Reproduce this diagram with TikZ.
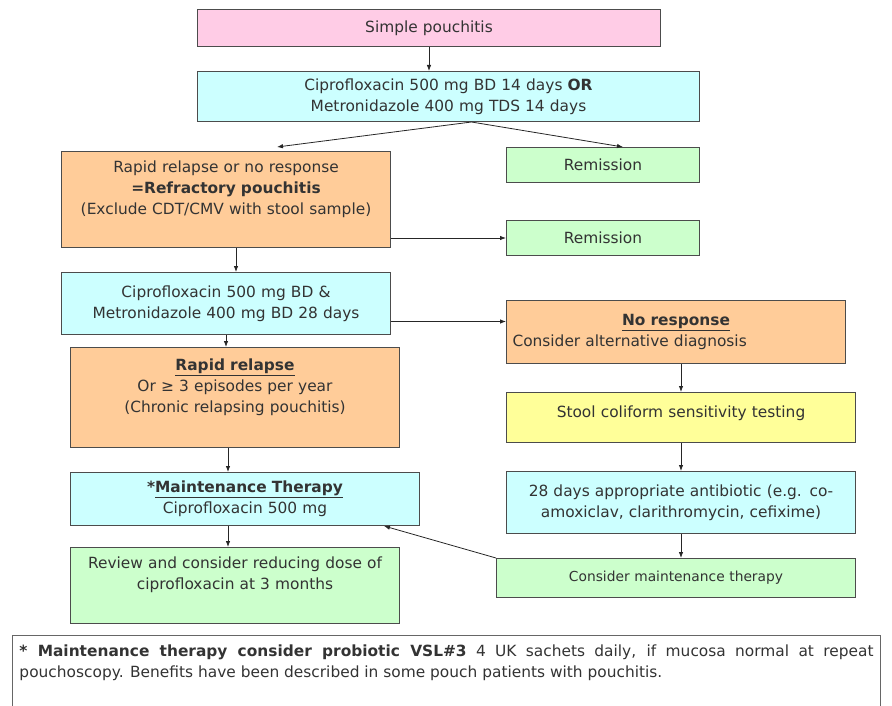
\documentclass[tikz,border=0pt]{standalone}
\usepackage{fontspec}
\setmainfont{DejaVu Sans}
\usetikzlibrary{arrows.meta}

\definecolor{pinkbox}{HTML}{FFCCE6}
\definecolor{cyanbox}{HTML}{CCFFFF}
\definecolor{orangebox}{HTML}{FFCC99}
\definecolor{greenbox}{HTML}{CCFFCC}
\definecolor{yellowbox}{HTML}{FFFF99}

\newcommand{\flowfont}{\fontsize{15.4}{21}\selectfont}
\newcommand{\smallflowfont}{\fontsize{13.8}{19}\selectfont}

\tikzset{
    flowbox/.style={draw=black!70, line width=1pt, inner sep=0pt, anchor=north west,
        align=center, font=\flowfont, text=black!80},
    boxsize/.style 2 args={minimum width=#1, text width=#1-12pt, minimum height=#2},
    flow/.style={->, line width=0.8pt, black!85},
}

\begin{document}
\begin{tikzpicture}[>={Latex[length=6pt,width=4.5pt]}, x=1pt, y=-1pt]
    \useasboundingbox (0,0) rectangle (892,706);

    % left column
    \node[flowbox, fill=pinkbox, boxsize={463pt}{37pt}] (simple) at (197,9) {Simple pouchitis};
    \node[flowbox, fill=cyanbox, boxsize={502pt}{50pt}] (treatA) at (197,71)
        {Ciprofloxacin 500 mg BD 14 days \textbf{OR}\\ Metronidazole 400 mg TDS 14 days};
    \node[flowbox, fill=orangebox, boxsize={329pt}{96pt}] (refract) at (61,151)
        {Rapid relapse or no response\\ \textbf{=Refractory pouchitis}\\ (Exclude CDT/CMV with stool sample)\par\vspace{21pt}};
    \node[flowbox, fill=cyanbox, boxsize={329pt}{62pt}] (treatB) at (61,272)
        {Ciprofloxacin 500 mg BD \&\\ Metronidazole 400 mg BD 28 days};
    \node[flowbox, fill=orangebox, boxsize={329pt}{100pt}] (relapse) at (70,347)
        {\textbf{\underline{Rapid relapse}}\\ Or ≥ 3 episodes per year\\ (Chronic relapsing pouchitis)\par\vspace{21pt}};
    \node[flowbox, fill=cyanbox, boxsize={349pt}{53pt}] (maint) at (70,472)
        {\textbf{*\underline{Maintenance Therapy}}\\ Ciprofloxacin 500 mg};
    \node[flowbox, fill=greenbox, boxsize={329pt}{76pt}] (review) at (70,547)
        {Review and consider reducing dose of\\ ciprofloxacin at 3 months\par\vspace{21pt}};

    % right column
    \node[flowbox, fill=greenbox, boxsize={193pt}{35pt}] (remitA) at (506,147) {Remission};
    \node[flowbox, fill=greenbox, boxsize={193pt}{35pt}] (remitB) at (506,220) {Remission};
    \node[flowbox, fill=orangebox, boxsize={339pt}{63pt}, align=left] (noresp) at (506,300)
        {{\centering\textbf{\underline{No response}}\par}Consider alternative diagnosis};
    \node[flowbox, fill=yellowbox, boxsize={349pt}{50pt}] (stool) at (506,392)
        {Stool coliform sensitivity testing\par\vspace{8pt}};
    \node[flowbox, fill=cyanbox, boxsize={349pt}{62pt}] (abx) at (506,471)
        {28 days appropriate antibiotic (e.g. co-\\ amoxiclav, clarithromycin, cefixime)};
    \node[flowbox, fill=greenbox, boxsize={359pt}{39pt}, font=\smallflowfont] (askmaint) at (496,558)
        {Consider maintenance therapy};

    % footnote
    \node[draw=black!60, line width=1pt, anchor=north west, inner xsep=7pt, inner ysep=9pt,
        text width=854pt, align=justify, font=\flowfont, text=black!80] (note) at (12,635)
        {\textbf{* Maintenance therapy consider probiotic VSL\#3} 4 UK sachets daily, if mucosa normal at repeat\linebreak
        pouchoscopy. Benefits have been described in some pouch patients with pouchitis.\par\vspace{40pt}};

    % connectors
    \draw[flow] (simple.south) -- (simple.south |- treatA.north);
    \draw[flow] ([xshift=23pt]treatA.south) -- ([xshift=51pt,yshift=4pt]refract.north);
    \draw[flow] ([xshift=23pt]treatA.south) -- ([xshift=20pt]remitA.north);
    \draw[flow] (refract.east |- remitB.west) -- (remitB.west);
    \draw[flow] ([xshift=10pt]refract.south) -- ([xshift=10pt]treatB.north);
    \draw[flow] ([yshift=-18pt]treatB.east) -- ([yshift=-18pt]treatB.east -| noresp.west);
    \draw[flow] (treatB.south) -- (treatB.south |- relapse.north);
    \draw[flow] ([xshift=-7pt]relapse.south) -- ([xshift=-17pt]maint.north);
    \draw[flow] ([xshift=-17pt]maint.south) -- ([xshift=-7pt]review.north);
    \draw[flow] (stool.north |- noresp.south) -- (stool.north);
    \draw[flow] (stool.south) -- (abx.north);
    \draw[flow] (abx.south) -- (abx.south |- askmaint.north);
    \draw[flow] (askmaint.north west) -- ([xshift=-36pt]maint.south east);
\end{tikzpicture}
\end{document}
